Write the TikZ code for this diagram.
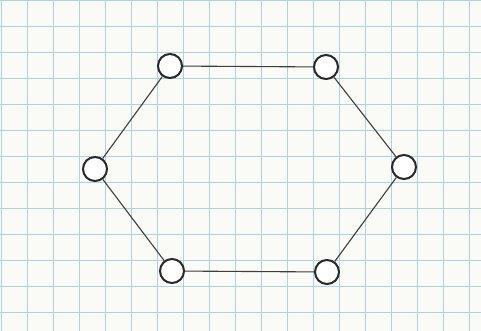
\documentclass[tikz,border=0pt]{standalone}
\usepackage{tikz}
\usepackage{xcolor}

\begin{document}
\begin{tikzpicture}[x=1pt,y=-1pt]

% Couleurs
\definecolor{papier}{RGB}{250,250,247}
\definecolor{quadrillage}{RGB}{170,210,224}
\definecolor{crayon}{RGB}{40,40,40}

\tikzset{
  sommet/.style={circle, draw=crayon, line width=2pt, fill=white,
    minimum size=24pt, inner sep=0pt},
  arete/.style={crayon!90, line width=1.1pt}
}

% Fond
\fill[papier] (0,0) rectangle (481,331);
\useasboundingbox (0,0) rectangle (481,331);

% Quadrillage
\foreach \x in {1,27,...,475}
  \draw[quadrillage, line width=0.9pt] (\x,0) -- (\x,331);
\foreach \y in {0,26,...,330}
  \draw[quadrillage, line width=0.9pt] (0,\y) -- (481,\y);

% Sommets de l'hexagone
\node[sommet] (HG) at (170,66) {};
\node[sommet] (HD) at (326,67) {};
\node[sommet] (D)  at (404,167) {};
\node[sommet] (BD) at (327,272) {};
\node[sommet] (BG) at (172,271) {};
\node[sommet] (G)  at (95,169) {};

% Aretes
\draw[arete] (HG) -- (HD);
\draw[arete] (HD) -- (D);
\draw[arete] (D) -- (BD);
\draw[arete] (BD) -- (BG);
\draw[arete] (BG) -- (G);
\draw[arete] (G) -- (HG);

\end{tikzpicture}
\end{document}
